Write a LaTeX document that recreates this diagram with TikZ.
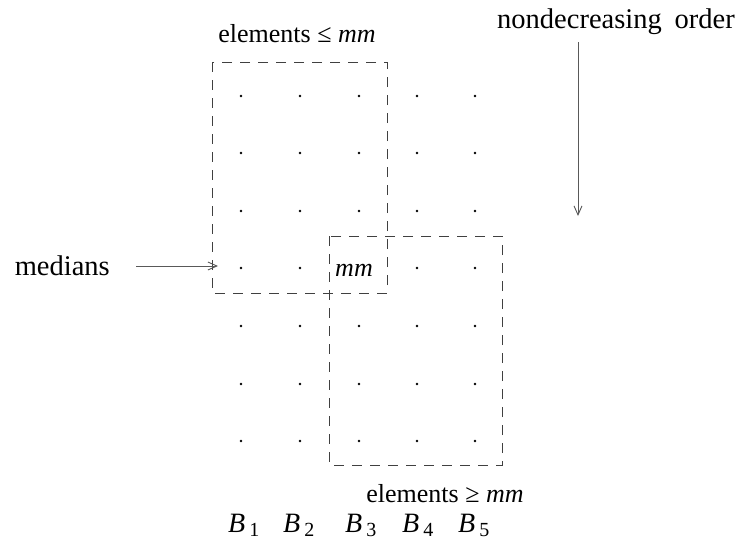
\documentclass[tikz,border=0pt]{standalone}
\usepackage{fontspec}
\setmainfont{Liberation Serif}
\usetikzlibrary{arrows.meta}
\newcommand{\Bsub}[1]{\textit{B}\hspace{4pt}\raisebox{-0.35ex}{\fontsize{20}{20}\selectfont #1}}
\begin{document}
\begin{tikzpicture}[x=1pt,y=-1pt,
  lbl/.style={font=\fontsize{26}{30}\selectfont, inner sep=0pt},
  biglbl/.style={font=\fontsize{28.5}{30}\selectfont, inner sep=0pt},
  blbl/.style={font=\fontsize{28}{30}\selectfont, inner sep=0pt, anchor=base west},
  dot/.style={circle, fill=black, inner sep=0pt, minimum size=2.6pt},
  dbox/.style={draw=black!75, line width=0.9pt, dash pattern=on 10pt off 8pt},
  arr/.style={draw=black!65, line width=0.9pt, -{Straight Barb[length=9pt,width=8pt]}}]
\useasboundingbox (0,0) rectangle (744,542);
% grid of elements
\foreach \c/\x in {1/241,2/300,3/359,4/417,5/475}{
  \foreach \r/\y in {1/96,2/153,3/211,4/268,5/326,6/384,7/441}{
    \ifnum\c=3 \ifnum\r=4 \else \node[dot] (d\c\r) at (\x,\y) {}; \fi
    \else \node[dot] (d\c\r) at (\x,\y) {}; \fi
  }
}
\node[lbl] (mm) at (354,270) {\textit{mm}};
% boxes
\draw[dbox] (212,62) rectangle (387,293);
\draw[dbox] (329,236) rectangle (502,465);
% labels
\node[lbl] (le) at (297,34) {elements ≤ \textit{mm}};
\node[lbl] (ge) at (445,494) {elements ≥ \textit{mm}};
\node[biglbl] (ord) at (616,22) {nondecreasing\hspace{0.45em}order};
\node[biglbl, anchor=east] (med) at (110,266) {medians};
\coordinate (medtip) at (218,266);
\draw[arr] ([xshift=26pt]med.east) -- (medtip);
\coordinate (ordtop) at (578,42);
\coordinate (ordbot) at (578,216);
\draw[arr] (ordtop) -- (ordbot);
% column labels
\node[blbl] (b1) at (228,532) {\Bsub{1}};
\node[blbl] (b2) at (283,532) {\Bsub{2}};
\node[blbl] (b3) at (345,532) {\Bsub{3}};
\node[blbl] (b4) at (402,532) {\Bsub{4}};
\node[blbl] (b5) at (458,532) {\Bsub{5}};
\end{tikzpicture}
\end{document}
